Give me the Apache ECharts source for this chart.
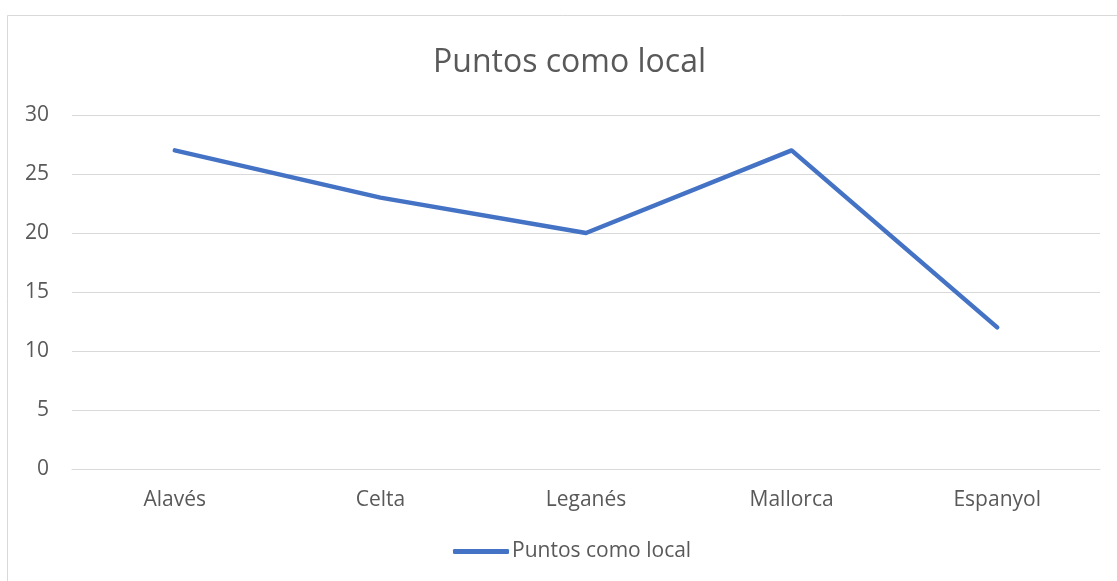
<!DOCTYPE html>
<html>
<head>
<meta charset="utf-8">
<script src="https://cdn.jsdelivr.net/npm/echarts@6/dist/echarts.min.js"></script>
<style>
html,body{margin:0;padding:0;background:#fff;}
#chart{width:1117px;height:581px;}
</style>
</head>
<body>
<div id="chart"></div>
<script>
const categories = ['Alavés', 'Celta', 'Leganés', 'Mallorca', 'Espanyol'];
const seriesName = 'Puntos como local';
const values = [27, 23, 20, 27, 12];
const titleText = 'Puntos como local';

const chart = echarts.init(document.getElementById('chart'));
const font = '"Open Sans", sans-serif';
chart.setOption({
  animation: false,
  backgroundColor: '#fff',
  graphic: [{
    type: 'rect',
    shape: { x: 7.5, y: 15.5, width: 1300, height: 800 },
    style: { fill: 'none', stroke: '#d9d9d9', lineWidth: 1 },
    silent: true, z: -1
  }],
  title: {
    text: titleText,
    left: 428,
    top: 42,
    textStyle: { fontFamily: font, fontSize: 32, fontWeight: 'normal', color: '#595959' }
  },
  legend: {
    bottom: 14,
    left: 448,
    icon: 'roundRect',
    itemWidth: 56,
    itemHeight: 5,
    itemGap: 10,
    textStyle: { fontFamily: font, fontSize: 21, color: '#595959', padding: [0, 0, 0, -2] },
    data: [seriesName]
  },
  grid: { left: 72, right: 17, top: 115, bottom: 112, containLabel: false },
  xAxis: {
    type: 'category',
    data: categories,
    boundaryGap: true,
    axisLine: { show: true, lineStyle: { color: '#d9d9d9', width: 1 } },
    axisTick: { show: false },
    axisLabel: { fontFamily: font, fontSize: 21, color: '#595959', margin: 21 }
  },
  yAxis: {
    type: 'value',
    min: 0, max: 30, interval: 5,
    axisLine: { show: false },
    axisTick: { show: false },
    splitLine: { lineStyle: { color: '#d9d9d9', width: 1 } },
    axisLabel: { fontFamily: font, fontSize: 21, color: '#595959', margin: 23 }
  },
  series: [{
    name: seriesName,
    type: 'line',
    data: values,
    showSymbol: false,
    symbol: 'none',
    lineStyle: { color: '#4472C4', width: 4.5, cap: 'round', join: 'round' },
    itemStyle: { color: '#4472C4' }
  }]
});
</script>
</body>
</html>
